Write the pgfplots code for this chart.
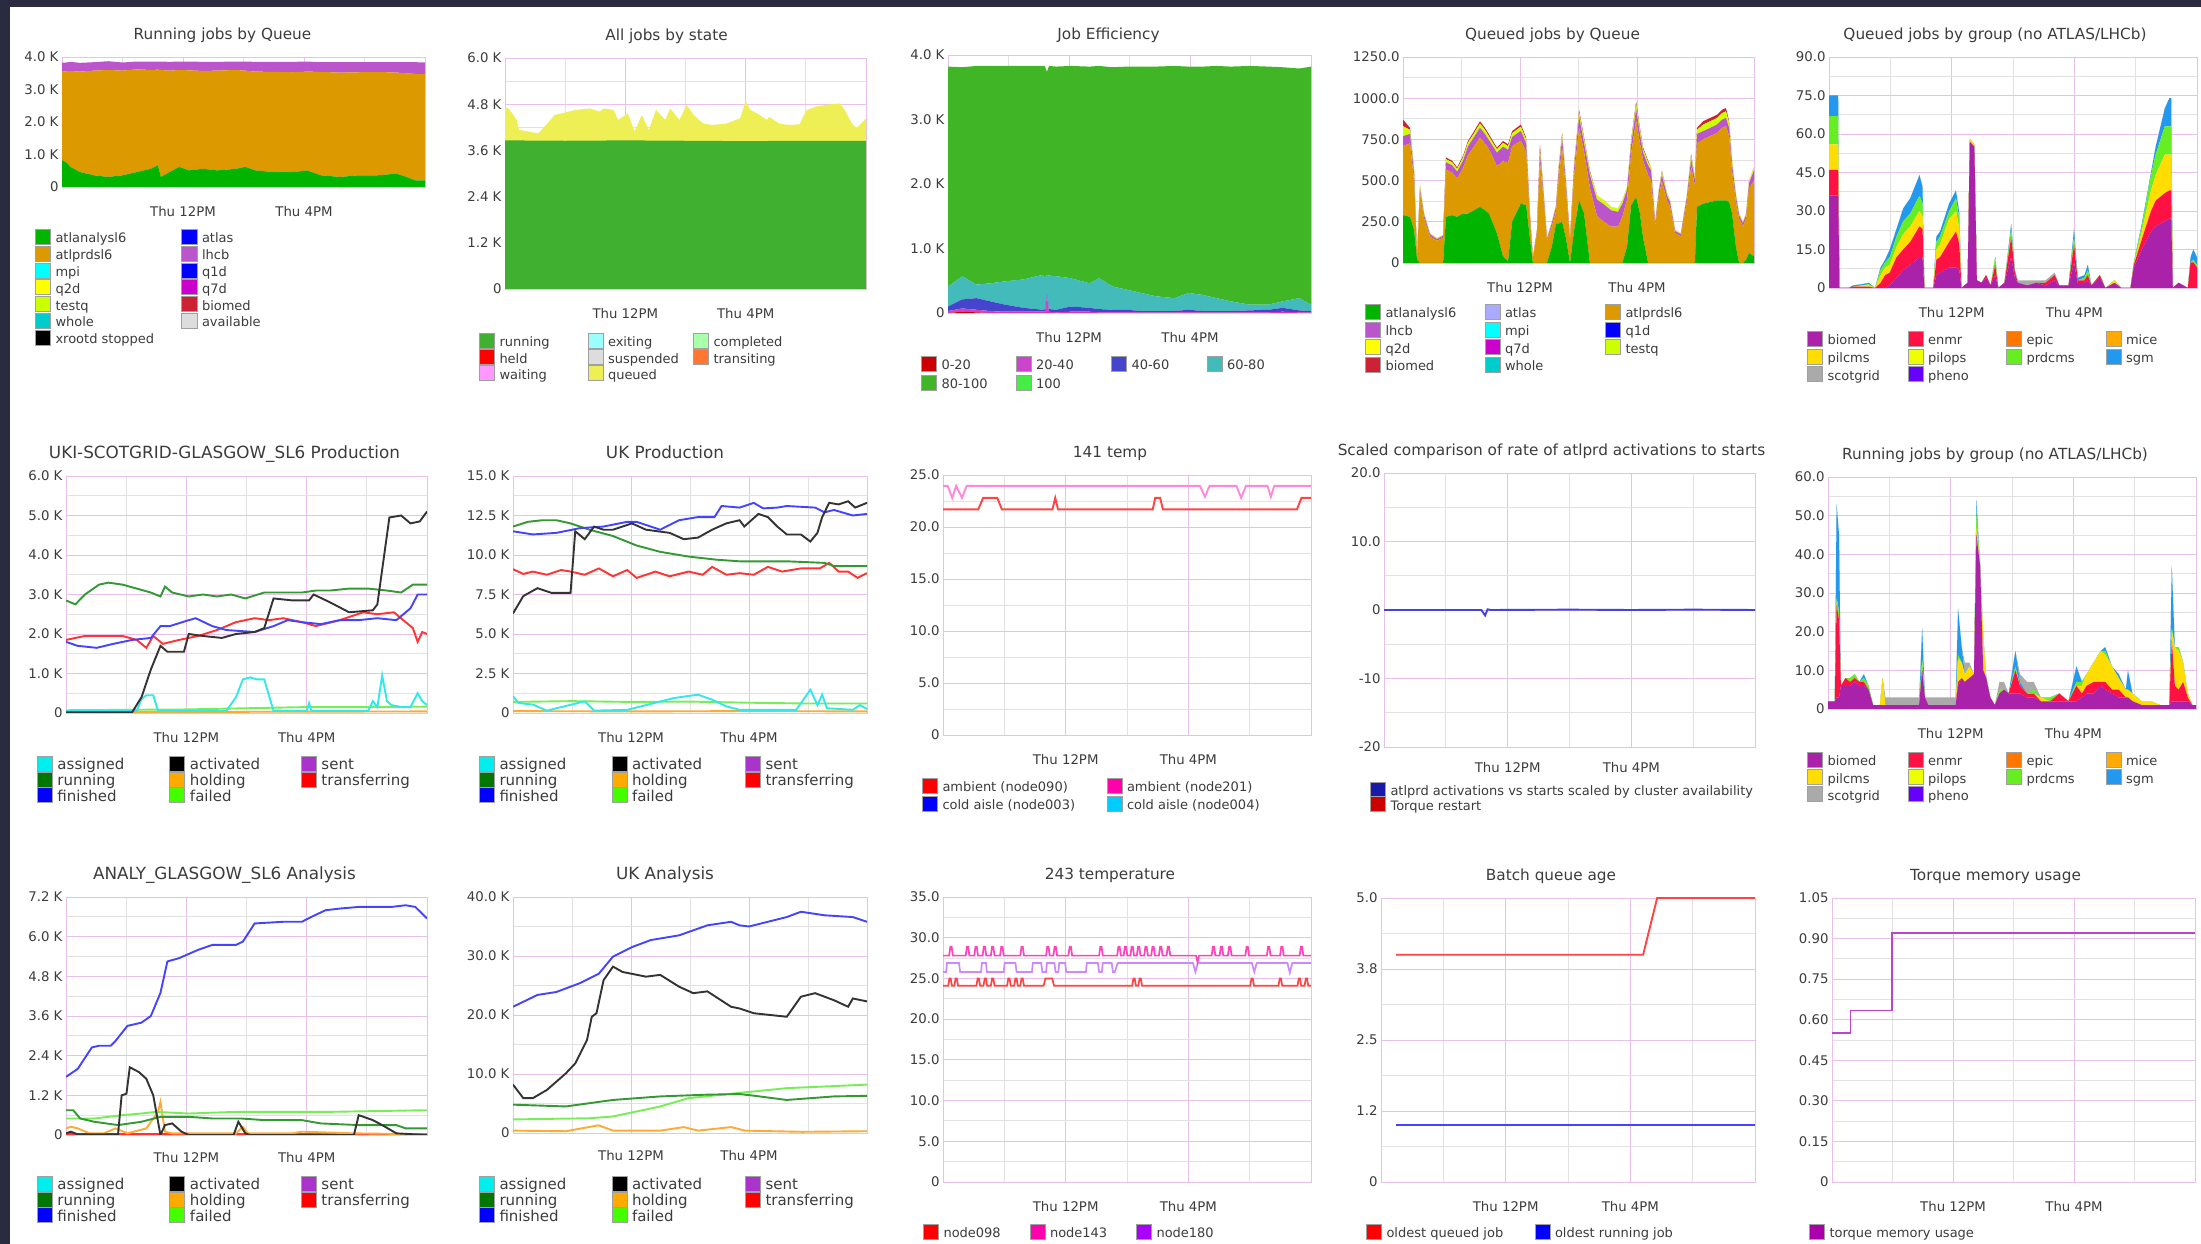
\documentclass[border=0pt]{standalone}
\usepackage{pgfplots}
\pgfplotsset{compat=1.18}
\usepackage{pgfplotstable}
\usepackage{fontspec}
\setmainfont{DejaVu Sans}
\definecolor{navy}{HTML}{2A2A40}
\definecolor{gmaj}{HTML}{E9C0E9}
\definecolor{gmin}{HTML}{E2E2E2}
\definecolor{swb}{HTML}{A0A0A0}
\definecolor{txt}{HTML}{3C3C3C}
% queues
\definecolor{cAtlAn}{HTML}{00B400}
\definecolor{cAtlPrd}{HTML}{DD9900}
\definecolor{cMpi}{HTML}{00FFFF}
\definecolor{cQtwo}{HTML}{FFFF00}
\definecolor{cTestq}{HTML}{CCFF00}
\definecolor{cWhole}{HTML}{00CCCC}
\definecolor{cXrd}{HTML}{000000}
\definecolor{cAtlas}{HTML}{0000FF}
\definecolor{cAtlasL}{HTML}{AAAAFF}
\definecolor{cLhcb}{HTML}{BB55CC}
\definecolor{cQone}{HTML}{0000FF}
\definecolor{cQseven}{HTML}{CC00CC}
\definecolor{cBiomed}{HTML}{CC2233}
\definecolor{cAvail}{HTML}{DDDDDD}
% states
\definecolor{sRun}{HTML}{40B030}
\definecolor{sHeld}{HTML}{FF0000}
\definecolor{sWait}{HTML}{FF99FF}
\definecolor{sExit}{HTML}{99FFFF}
\definecolor{sSusp}{HTML}{DDDDDD}
\definecolor{sQueued}{HTML}{EEEE55}
\definecolor{sCompl}{HTML}{AAFFAA}
\definecolor{sTrans}{HTML}{FF7733}
% efficiency
\definecolor{eA}{HTML}{CC0000}
\definecolor{eB}{HTML}{CC44CC}
\definecolor{eC}{HTML}{4444CC}
\definecolor{eD}{HTML}{44BBBB}
\definecolor{eE}{HTML}{40B525}
\definecolor{eF}{HTML}{44EE44}
% groups
\definecolor{gBio}{HTML}{AA22AA}
\definecolor{gEnmr}{HTML}{FF1144}
\definecolor{gEpic}{HTML}{FF7700}
\definecolor{gMice}{HTML}{FFAA00}
\definecolor{gPilcms}{HTML}{FFDD00}
\definecolor{gPilops}{HTML}{EEFF00}
\definecolor{gPrdcms}{HTML}{66EE22}
\definecolor{gSgm}{HTML}{2299EE}
\definecolor{gScot}{HTML}{AAAAAA}
\definecolor{gPheno}{HTML}{6600FF}
% panda
\definecolor{pAss}{HTML}{00EEEE}
\definecolor{pAct}{HTML}{000000}
\definecolor{pSent}{HTML}{AA33CC}
\definecolor{pRun}{HTML}{007700}
\definecolor{pHold}{HTML}{FFAA00}
\definecolor{pTrans}{HTML}{FF0000}
\definecolor{pFin}{HTML}{0000FF}
\definecolor{pFail}{HTML}{44FF00}
\definecolor{lRun}{HTML}{339933}
\definecolor{lFin}{HTML}{4444FF}
\definecolor{lTrans}{HTML}{FF3333}
\definecolor{lAct}{HTML}{333333}
\definecolor{lAss}{HTML}{33E8E8}
\definecolor{lFail}{HTML}{77EE55}
\definecolor{lHold}{HTML}{FFAA33}
% temps etc
\definecolor{tRed}{HTML}{FF0000}
\definecolor{tRedL}{HTML}{FF4444}
\definecolor{tPink}{HTML}{FF00AA}
\definecolor{tPinkL}{HTML}{FF88DD}
\definecolor{tMag}{HTML}{FF44BB}
\definecolor{tPur}{HTML}{AA00FF}
\definecolor{tPurL}{HTML}{CC88FF}
\definecolor{tBlue}{HTML}{0000FF}
\definecolor{tCyan}{HTML}{00CCFF}
\definecolor{sBlueD}{HTML}{1A1AAA}
\definecolor{sRedD}{HTML}{CC0000}
\definecolor{lBlueS}{HTML}{4444DD}
\definecolor{mPur}{HTML}{AA00AA}
\definecolor{mPurL}{HTML}{BB44CC}

\newcommand\ttl{\fontsize{15.3}{18}\selectfont}
\newcommand\ttlb{\fontsize{16.8}{20}\selectfont}
\newcommand\tck{\fontsize{13.3}{16}\selectfont}
\newcommand\lgf{\fontsize{13}{16}\selectfont}
\newcommand\lgfb{\fontsize{15}{18}\selectfont}
\newcommand\LE[1]{\addlegendentry{\rule[-4.25pt]{0pt}{18pt}#1}}
\newcommand\LW[2]{\addlegendentry{\rule[-4.25pt]{0pt}{18pt}\makebox[#1][l]{#2}}}
\newcommand\LI[1]{\addlegendimage{fill=#1}}

\pgfplotsset{
 rrd/.style={
  scale only axis, anchor=south west,
  xmin=8, xmax=20, ymin=0,
  xtick={12,16}, xticklabels={Thu 12PM,Thu 4PM},
  minor xtick={10,14,18},
  minor y tick num=1,
  xmajorgrids, xminorgrids, ymajorgrids, yminorgrids,
  major grid style={draw=gmaj, line width=0.9pt},
  minor grid style={draw=gmin, line width=0.9pt},
  axis line style={draw=gmaj, line width=0.9pt},
  major tick length=0pt, minor tick length=0pt,
  tick label style={font=\tck, text=txt},
  xticklabel style={anchor=base, yshift=-30pt},
  title style={font=\ttl, text=txt, at={(0.5,1)}, anchor=base, yshift=11pt},
  legend style={draw=none, fill=none, at={(0,0)}, anchor=north west, font=\lgf, text=txt,
     row sep=0pt, column sep=0pt, inner sep=0pt, outer sep=0pt,
     cells={anchor=west}, nodes={inner sep=0pt}},
  legend image code/.code={\filldraw[##1, draw=swb, line width=0.6pt] (0pt,-7.5pt) rectangle (15pt,7.5pt); \path (20pt,0pt);},
 },
 ln/.style={line width=1.9pt, forget plot},
 ar/.style={fill=#1, draw=none, forget plot},
}

% ---------------- data tables ----------------
\pgfplotstableread{
h g o l
8.00 0.82 2.73 0.28
8.13 0.77 2.79 0.27
8.28 0.62 2.95 0.28
8.59 0.46 3.09 0.27
9.06 0.36 3.22 0.26
9.53 0.31 3.29 0.27
10.00 0.36 3.22 0.25
10.47 0.46 3.16 0.24
10.94 0.56 3.04 0.26
11.17 0.67 2.94 0.25
11.27 0.31 3.29 0.26
11.56 0.46 3.12 0.27
11.88 0.62 2.98 0.26
12.19 0.51 3.08 0.27
12.66 0.56 3.01 0.28
13.13 0.51 3.07 0.27
13.75 0.56 3.04 0.26
14.06 0.62 2.96 0.28
14.38 0.51 3.04 0.30
15.00 0.46 3.08 0.31
15.63 0.46 3.07 0.32
16.09 0.51 3.04 0.31
16.56 0.36 3.18 0.30
17.19 0.31 3.21 0.32
17.81 0.36 3.17 0.31
18.44 0.36 3.18 0.30
19.06 0.41 3.11 0.32
19.38 0.31 3.19 0.34
19.69 0.20 3.28 0.36
20.00 0.20 3.27 0.36
}\tPa

\pgfplotstableread{
h r m b t g
8.00 0.00 0.03 0.07 0.31 3.41
8.47 0.02 0.05 0.14 0.36 3.24
8.94 0.01 0.04 0.18 0.21 3.39
9.40 0.00 0.03 0.15 0.28 3.37
9.87 0.00 0.02 0.11 0.36 3.34
10.49 0.00 0.02 0.06 0.44 3.31
11.12 0.00 0.02 0.03 0.54 3.24
11.20 0.00 0.02 0.03 0.50 3.28
11.27 0.00 0.26 0.03 0.30 3.15
11.34 0.00 0.02 0.04 0.52 3.25
11.58 0.00 0.01 0.04 0.52 3.25
12.05 0.00 0.02 0.08 0.44 3.29
12.68 0.00 0.02 0.06 0.38 3.36
12.99 0.00 0.01 0.05 0.48 3.29
13.45 0.00 0.01 0.04 0.36 3.40
13.92 0.00 0.01 0.04 0.31 3.46
14.39 0.00 0.01 0.02 0.28 3.51
14.86 0.00 0.01 0.02 0.23 3.56
15.48 0.00 0.01 0.02 0.20 3.60
15.95 0.00 0.01 0.04 0.26 3.51
16.42 0.00 0.01 0.02 0.25 3.54
16.88 0.00 0.01 0.02 0.20 3.60
17.35 0.00 0.01 0.02 0.15 3.64
17.97 0.00 0.01 0.03 0.09 3.70
18.60 0.00 0.01 0.04 0.08 3.69
19.06 0.00 0.02 0.06 0.10 3.63
19.61 0.00 0.01 0.03 0.19 3.56
20.00 0.00 0.01 0.02 0.10 3.69
}\tPc

\pgfplotstableread{
h g o p t r
8.00 290 420 60 60 40
8.24 280 446 57 25 12
8.38 200 296 39 17 8
8.48 20 16 3 1 0
8.58 0 430 20 20 0
8.72 0 270 21 9 0
8.92 0 162 13 5 0
9.16 0 135 10 5 0
9.37 0 153 12 5 0
9.47 280 286 45 19 10
9.68 290 259 43 19 9
9.85 280 233 41 17 9
10.05 300 275 45 20 10
10.22 300 355 52 22 11
10.43 320 388 56 24 12
10.63 340 421 60 26 13
10.80 320 406 57 25 12
10.94 300 390 55 23 12
11.21 180 409 80 21 10
11.42 40 577 90 22 11
11.59 10 597 80 22 11
11.73 250 458 56 24 12
12.03 360 383 59 25 13
12.21 350 323 53 23 11
12.34 150 120 21 9 0
12.44 0 27 2 1 0
12.58 0 180 14 6 0
12.68 0 618 50 22 30
12.82 0 360 28 12 0
12.92 0 135 10 5 0
13.09 100 124 18 8 0
13.23 240 75 25 10 0
13.33 240 291 42 18 9
13.44 250 449 55 24 12
13.57 150 300 35 15 0
13.71 0 135 10 5 0
13.85 200 331 42 18 9
14.02 380 443 65 28 14
14.19 300 373 53 23 11
14.39 0 455 80 17 8
14.63 0 285 100 25 0
14.87 0 250 105 25 0
15.11 0 220 100 20 0
15.35 0 220 90 20 0
15.50 0 280 80 20 0
15.66 100 285 60 15 0
15.80 350 315 52 22 11
15.97 400 467 69 29 15
16.10 300 426 57 25 12
16.21 150 470 49 21 10
16.38 0 532 60 19 9
16.48 0 503 60 17 0
16.62 0 224 18 8 0
16.75 0 404 32 14 0
16.85 0 496 39 17 8
17.03 0 378 29 13 0
17.13 0 342 27 11 0
17.30 0 180 14 6 0
17.50 0 162 13 5 0
17.71 0 378 29 13 0
17.85 0 584 46 20 10
17.98 0 468 36 16 0
18.05 340 386 57 25 12
18.26 360 390 50 40 20
18.50 370 400 50 40 20
18.74 380 410 50 40 20
18.91 380 440 50 40 20
19.04 380 450 50 40 20
19.15 370 400 50 30 10
19.25 300 258 43 19 0
19.38 100 278 29 13 0
19.49 0 270 21 9 0
19.62 0 224 18 8 0
19.73 20 250 21 9 0
19.83 60 390 35 15 0
20.00 40 463 60 17 0
}\tPd

\pgfplotstableread{
h bm en pc pd sg sc
8.00 36 10 10 11 8 0
8.30 36 10 10 11 8 0
8.34 0 0 0 0 0 0
8.63 0 0 0 0 0 0
8.78 0 0.5 0 0 0.5 0
9.08 0 0.5 0.5 0 0.5 0
9.30 0 0.5 0.5 0.5 0.5 0
9.50 0 0 0 0 0 0
9.68 0 2 3 2 1 0
9.83 0 5 3 2 1 0
9.98 1 5 3 3 3 0
10.20 4 8 4 4 3 0
10.42 7 8 6 5 5 0
10.65 9 9 6 5 6 0
10.95 12 12 6 6 8 0
11.05 12 11 5 5 6 1
11.11 0 0 0 0 0 0
11.40 0 0 0 0 0 0
11.50 5 6 4 3 2 0
11.62 6 6 5 3 2 0
11.92 8 10 9 3 3 0
12.14 8 14 8 5 3 0
12.25 7 10 6 4 2 0
12.32 0 0 0 0 0 0
12.52 2 0 0 0 0 0
12.59 57 0 1 0 0 0
12.74 55 0 1 0 0 0
12.82 3 0 0 0 0 0
12.97 2 0 0 0 0 0
13.12 4 1 0 0 0 0
13.27 1 0 0 0 0 0
13.42 5 4 0 3 0 0
13.52 0 0 0 0 0 0
13.72 2 0 0 0 0 0
13.94 12 8 0 3 2 0
14.06 4 2 0 0 1 0
14.16 2 0 0 0 0 1
14.46 1 0 0 0 0 2
14.76 2 0 0 0 0 1
15.06 1 1 0 0 0 1
15.36 3 2 0 0 0 1
15.51 1 0 0 0 0 0
15.81 1 0 0 0 0 0
15.99 10 7 0 3 3 0
16.11 2 1 0 0 1 0
16.33 2 1 0 1 1 0
16.44 3 2 0 2 2 0
16.56 1 0 0 0 0 0
16.83 4 1 0 0 0 0
17.01 0 0 0 0 0 0
17.31 2 0 1 0 0 0
17.53 0 0 0 0 0 0
17.83 0 0 0 0 0 0
17.94 8 1 0 1 0 0
18.20 15 4 3 2 1 0
18.50 22 8 8 6 1 0
18.65 24 10 10 8 3 0
18.95 26 11 15 11 7 0
19.10 27 11 14 11 11 0
19.16 27 11 14 11 11 0
19.21 0 0 0 0 0 0
19.40 2 0 0 0 0 0
19.55 1 0 0 0 0 0
19.70 0 0 0 0 0 0
19.79 0 10 0 0 2 0
19.88 0 10 0 1 4 0
20.00 0 8 0 1 3 0
}\tPe

\pgfplotstableread{
h bm en pc pd sg sc
8.00 2 0 0 0 0 0
8.22 2 0 0 0 0 0
8.28 3 24 0 2 24 0
8.36 3 20 0 2 20 0
8.42 6 0 0 0 0 0
8.57 6 2 0 0 0 0
8.72 6 1 0 1 0 0
8.87 7 1 0 1 0 0
9.02 6 1 0 0 0 0
9.17 6 1 0 1 1 0
9.32 5 0 0 1 0 0
9.47 1 0 0 0 0 0
9.69 1 0 0 0 0 0
9.78 1 0 7 0 0 0
9.87 1 0 0 0 0 2
10.14 1 0 0 0 0 2
10.59 1 0 0 0 0 2
10.97 1 0 0 0 0 2
11.07 10 0 0 3 8 0
11.16 3 0 0 0 0 0
11.27 1 0 0 0 0 2
11.64 1 0 0 0 0 2
12.16 1 0 0 0 0 2
12.24 6 1 6 1 12 0
12.36 8 0 4 0 4 0
12.46 7 0 2 0 0 3
12.61 8 0 3 0 0 1
12.76 9 0 0 0 0 0
12.84 45 0 2 4 3 0
12.96 37 0 0 0 0 0
13.06 10 0 9 0 0 0
13.16 8 0 0 0 0 0
13.29 3 0 0 0 0 0
13.44 1 0 0 0 0 0
13.59 4 0 0 1 0 2
13.74 5 0 0 0 0 2
13.89 4 0 0 0 0 0
14.11 4 6 0 1 4 0
14.26 4 2 0 0 1 2
14.49 3 1 0 0 0 3
14.71 3 1 0 1 0 2
14.94 2 0 1 0 0 0
15.24 2 0 0 1 0 0
15.54 2 2 0 0 0 0
15.84 2 0 0 0 0 0
16.10 2 4 0 1 4 0
16.28 3 1 2 1 0 0
16.43 4 2 3 0 0 0
16.66 4 3 5 0 0 0
16.89 6 1 8 0 0 0
17.04 5 2 7 1 1 0
17.26 4 1 6 0 0 0
17.48 3 2 3 0 1 0
17.71 3 0 2 0 0 0
17.78 3 0 2 0 5 0
17.93 2 0 2 0 0 0
18.23 1 0 1 0 0 0
18.53 1 0 1 0 0 0
18.83 1 0 0 0 0 0
19.13 1 0 0 0 0 0
19.21 2 16 2 1 16 0
19.31 2 4 10 0 0 0
19.43 2 3 10 1 0 0
19.58 2 5 5 0 0 0
19.73 2 1 1 0 0 0
19.88 1 0 0 0 0 0
20.00 1 0 0 0 0 0
}\tPj

\begin{document}
\begin{tikzpicture}
\useasboundingbox (0,0) rectangle (2201pt,1244pt);
\fill[white] (0,0) rectangle (2201pt,1244pt);
\fill[navy] (0,1237pt) rectangle (2201pt,1244pt);
\fill[navy] (0,0) rectangle (10pt,1244pt);

%================ P1 Running jobs by Queue
\begin{axis}[rrd, at={(62pt,1057pt)}, width=363pt, height=130pt,
  ymax=4, ytick={0,1,2,3,4}, yticklabels={0,1.0 K,2.0 K,3.0 K,4.0 K},
  title={Running jobs by Queue}, title style={xshift=-21pt},
  stack plots=y, legend columns=2,
  legend style={xshift=-27pt, yshift=-42pt, row sep=1.2pt}]
\addplot[ar=cAtlAn] table[x=h,y=g]{\tPa} \closedcycle;
\addplot[ar=cAtlPrd] table[x=h,y=o]{\tPa} \closedcycle;
\addplot[ar=cLhcb] table[x=h,y=l]{\tPa} \closedcycle;
\LI{cAtlAn}\LW{126pt}{atlanalysl6}
\LI{cAtlas}\LE{atlas}
\LI{cAtlPrd}\LW{126pt}{atlprdsl6}
\LI{cLhcb}\LE{lhcb}
\LI{cMpi}\LW{126pt}{mpi}
\LI{cQone}\LE{q1d}
\LI{cQtwo}\LW{126pt}{q2d}
\LI{cQseven}\LE{q7d}
\LI{cTestq}\LW{126pt}{testq}
\LI{cBiomed}\LE{biomed}
\LI{cWhole}\LW{126pt}{whole}
\LI{cAvail}\LE{available}
\LI{cXrd}\LW{126pt}{xrootd stopped}
\end{axis}

%================ P2 All jobs by state
\begin{axis}[rrd, at={(505pt,955pt)}, width=361pt, height=231pt,
  ymax=6, ytick={0,1.2,2.4,3.6,4.8,6}, yticklabels={0,1.2 K,2.4 K,3.6 K,4.8 K,6.0 K},
  title={All jobs by state}, title style={xshift=-19pt},
  legend columns=3,
  legend style={xshift=-26pt, yshift=-44pt, row sep=0.5pt}]
\addplot[ar=sQueued] coordinates {(8.00,4.74)(8.16,4.65)(8.39,4.39)(8.47,4.13)(8.78,4.09)(9.10,4.04)(9.41,4.30)(9.65,4.52)(9.88,4.56)(10.35,4.65)(10.82,4.69)(11.14,4.61)(11.29,4.69)(11.61,4.65)(11.76,4.39)(12.08,4.56)(12.31,4.09)(12.55,4.52)(12.78,4.13)(13.02,4.65)(13.33,4.39)(13.49,4.69)(13.80,4.39)(14.04,4.78)(14.27,4.52)(14.59,4.30)(14.90,4.26)(15.37,4.30)(15.81,4.43)(16.00,4.87)(16.16,4.65)(16.47,4.52)(16.71,4.39)(16.78,4.47)(17.10,4.30)(17.41,4.26)(17.80,4.28)(17.88,4.43)(18.04,4.65)(18.35,4.74)(18.67,4.78)(19.14,4.82)(19.29,4.65)(19.53,4.30)(19.69,4.17)(19.84,4.30)(20.00,4.43)} \closedcycle;
\addplot[ar=sRun] coordinates {(8,3.86)(10,3.85)(12,3.86)(14,3.85)(16,3.84)(18,3.85)(20,3.85)} \closedcycle;
\LI{sRun}\LW{88pt}{running}
\LI{sExit}\LW{85pt}{exiting}
\LI{sCompl}\LE{completed}
\LI{sHeld}\LW{88pt}{held}
\LI{sSusp}\LW{85pt}{suspended}
\LI{sTrans}\LE{transiting}
\LI{sWait}\LW{88pt}{waiting}
\LI{sQueued}\LW{85pt}{queued}
\end{axis}

%================ P3 Job Efficiency
\begin{axis}[rrd, at={(948pt,931pt)}, width=363pt, height=258pt,
  ymax=4, ytick={0,1,2,3,4}, yticklabels={0,1.0 K,2.0 K,3.0 K,4.0 K},
  title={Job Efficiency}, title style={xshift=-21pt, yshift=-2pt},
  stack plots=y, legend columns=4,
  legend style={xshift=-27pt, yshift=-43pt, row sep=3pt}]
\addplot[ar=eA] table[x=h,y=r]{\tPc} \closedcycle;
\addplot[ar=eB] table[x=h,y=m]{\tPc} \closedcycle;
\addplot[ar=eC] table[x=h,y=b]{\tPc} \closedcycle;
\addplot[ar=eD] table[x=h,y=t]{\tPc} \closedcycle;
\addplot[ar=eE] table[x=h,y=g]{\tPc} \closedcycle;
\LI{eA}\LW{74pt}{0-20}
\LI{eB}\LW{75pt}{20-40}
\LI{eC}\LW{75pt}{40-60}
\LI{eD}\LE{60-80}
\LI{eE}\LW{74pt}{80-100}
\LI{eF}\LW{75pt}{100}
\end{axis}

%================ P4 Queued jobs by Queue
\begin{axis}[rrd, at={(1403pt,981pt)}, width=351pt, height=206pt,
  ymax=1250, ytick={0,250,500,750,1000,1250}, yticklabels={0,250.0,500.0,750.0,1000.0,1250.0},
  title={Queued jobs by Queue}, title style={xshift=-26pt},
  stack plots=y, legend columns=3,
  legend style={xshift=-38pt, yshift=-41pt, row sep=2pt}]
\addplot[ar=cAtlAn] table[x=h,y=g]{\tPd} \closedcycle;
\addplot[ar=cAtlPrd] table[x=h,y=o]{\tPd} \closedcycle;
\addplot[ar=cLhcb] table[x=h,y=p]{\tPd} \closedcycle;
\addplot[ar=cTestq] table[x=h,y=t]{\tPd} \closedcycle;
\addplot[ar=cBiomed] table[x=h,y=r]{\tPd} \closedcycle;
\LI{cAtlAn}\LW{99pt}{atlanalysl6}
\LI{cAtlasL}\LW{100pt}{atlas}
\LI{cAtlPrd}\LE{atlprdsl6}
\LI{cLhcb}\LW{99pt}{lhcb}
\LI{cMpi}\LW{100pt}{mpi}
\LI{cQone}\LE{q1d}
\LI{cQtwo}\LW{99pt}{q2d}
\LI{cQseven}\LW{100pt}{q7d}
\LI{cTestq}\LE{testq}
\LI{cBiomed}\LW{99pt}{biomed}
\LI{cWhole}\LW{100pt}{whole}
\end{axis}

%================ P5 Queued jobs by group
\begin{axis}[rrd, at={(1829pt,956pt)}, width=368pt, height=231pt,
  ymax=90, ytick={0,15,30,45,60,75,90}, yticklabels={0,15.0,30.0,45.0,60.0,75.0,90.0},
  title={Queued jobs by group (no ATLAS/LHCb)}, title style={xshift=-18pt},
  stack plots=y, legend columns=4,
  legend style={xshift=-22pt, yshift=-43pt, row sep=2pt}]
\addplot[ar=gBio] table[x=h,y=bm]{\tPe} \closedcycle;
\addplot[ar=gEnmr] table[x=h,y=en]{\tPe} \closedcycle;
\addplot[ar=gPilcms] table[x=h,y=pc]{\tPe} \closedcycle;
\addplot[ar=gPrdcms] table[x=h,y=pd]{\tPe} \closedcycle;
\addplot[ar=gSgm] table[x=h,y=sg]{\tPe} \closedcycle;
\addplot[ar=gScot] table[x=h,y=sc]{\tPe} \closedcycle;
\LI{gBio}\LW{80pt}{biomed}
\LI{gEnmr}\LW{78pt}{enmr}
\LI{gEpic}\LW{79pt}{epic}
\LI{gMice}\LE{mice}
\LI{gPilcms}\LW{80pt}{pilcms}
\LI{gPilops}\LW{78pt}{pilops}
\LI{gPrdcms}\LW{79pt}{prdcms}
\LI{gSgm}\LE{sgm}
\LI{gScot}\LW{80pt}{scotgrid}
\LI{gPheno}\LW{78pt}{pheno}
\end{axis}

%================ P6 UKI-SCOTGRID-GLASGOW_SL6 Production
\begin{axis}[rrd, at={(66pt,531pt)}, width=361pt, height=237pt,
  ymax=6, ytick={0,1,2,3,4,5,6}, yticklabels={0,1.0 K,2.0 K,3.0 K,4.0 K,5.0 K,6.0 K},
  title={UKI-SCOTGRID-GLASGOW\_SL6 Production}, title style={font=\ttlb, xshift=-22pt},
  legend columns=3,
  legend style={font=\lgfb, xshift=-29pt, yshift=-43pt, row sep=0pt}]
\addplot[ln, lHold] coordinates {(8,0.02)(14,0.03)(20,0.04)};
\addplot[ln, lFail] coordinates {(8,0.07)(12,0.09)(14,0.12)(16,0.15)(18,0.15)(20,0.16)};
\addplot[ln, lAss] coordinates {(8.00,0.05)(10.35,0.05)(10.51,0.35)(10.67,0.45)(10.90,0.45)(11.06,0.05)(13.33,0.05)(13.65,0.4)(13.88,0.85)(14.12,0.9)(14.35,0.85)(14.59,0.85)(14.90,0.05)(16.00,0.05)(16.08,0.25)(16.16,0.05)(18.04,0.05)(18.20,0.3)(18.35,0.15)(18.51,0.95)(18.67,0.3)(18.82,0.2)(19.14,0.15)(19.45,0.15)(19.69,0.5)(19.84,0.3)(20.00,0.2)};
\addplot[ln, lRun] coordinates {(8.00,2.85)(8.31,2.75)(8.63,3.0)(9.10,3.25)(9.41,3.3)(9.88,3.25)(10.35,3.15)(10.82,3.05)(11.14,2.95)(11.29,3.2)(11.53,3.05)(12.08,2.95)(12.55,3.0)(13.02,2.95)(13.49,3.0)(13.96,2.9)(14.59,3.05)(15.22,3.05)(15.84,3.05)(16.31,3.1)(16.78,3.1)(17.41,3.15)(18.04,3.15)(18.67,3.1)(19.14,3.05)(19.53,3.25)(20.00,3.25)};
\addplot[ln, lTrans] coordinates {(8.00,1.85)(8.63,1.95)(9.25,1.95)(9.88,1.95)(10.35,1.85)(10.67,1.65)(10.90,1.95)(11.22,1.75)(11.76,1.85)(12.39,1.95)(13.02,2.1)(13.65,2.3)(14.27,2.4)(14.75,2.35)(15.22,2.4)(15.84,2.3)(16.31,2.2)(17.10,2.35)(17.88,2.55)(18.35,2.5)(18.90,2.55)(19.29,2.3)(19.53,2.15)(19.69,1.8)(19.84,2.05)(20.00,2.0)};
\addplot[ln, lFin] coordinates {(8.00,1.8)(8.39,1.7)(9.02,1.65)(9.57,1.75)(10.20,1.85)(10.82,1.9)(11.14,2.2)(11.45,2.2)(12.08,2.35)(12.31,2.4)(12.86,2.2)(13.33,2.1)(14.27,2.05)(14.90,2.2)(15.37,2.35)(15.84,2.3)(16.47,2.25)(17.10,2.35)(17.72,2.35)(18.35,2.4)(18.98,2.35)(19.45,2.65)(19.69,3.0)(20.00,3.0)};
\addplot[ln, lAct] coordinates {(8.00,0.02)(10.20,0.02)(10.51,0.4)(10.82,1.1)(11.14,1.7)(11.37,1.55)(11.92,1.55)(12.08,2.0)(12.55,1.95)(13.18,1.9)(13.65,2.0)(14.27,2.05)(14.59,2.15)(14.90,2.9)(15.53,2.85)(16.08,2.85)(16.23,3.0)(16.78,2.8)(17.41,2.55)(18.20,2.6)(18.35,2.75)(18.75,4.95)(19.14,5.0)(19.45,4.8)(19.76,4.85)(20.00,5.1)};
\LI{pAss}\LW{112pt}{assigned}
\LI{pAct}\LW{111pt}{activated}
\LI{pSent}\LE{sent}
\LI{pRun}\LW{112pt}{running}
\LI{pHold}\LW{111pt}{holding}
\LI{pTrans}\LE{transferring}
\LI{pFin}\LW{112pt}{finished}
\LI{pFail}\LW{111pt}{failed}
\end{axis}

%================ P7 UK Production
\begin{axis}[rrd, at={(513pt,531pt)}, width=354pt, height=237pt,
  ymax=15, ytick={0,2.5,5,7.5,10,12.5,15}, yticklabels={0,2.5 K,5.0 K,7.5 K,10.0 K,12.5 K,15.0 K},
  title={UK Production}, title style={font=\ttlb, xshift=-25pt},
  legend columns=3,
  legend style={font=\lgfb, xshift=-34pt, yshift=-43pt, row sep=0pt}]
\addplot[ln, lHold] coordinates {(8,0.12)(12,0.1)(16,0.12)(20,0.1)};
\addplot[ln, lFail] coordinates {(8,0.7)(10,0.75)(12,0.7)(14,0.72)(16,0.65)(18,0.6)(20,0.6)};
\addplot[ln, lAss] coordinates {(8.00,1.05)(8.19,0.63)(8.67,0.53)(9.15,0.15)(10.43,0.74)(10.75,0.15)(11.87,0.2)(13.47,0.95)(14.27,1.16)(14.75,0.84)(15.23,0.42)(15.68,0.2)(17.60,0.2)(18.08,1.47)(18.32,0.5)(18.48,1.16)(18.64,0.3)(19.52,0.2)(19.76,0.5)(20.0,0.25)};
\addplot[ln, lTrans] coordinates {(8.00,9.1)(8.35,8.8)(8.67,8.95)(9.15,8.75)(9.63,9.05)(9.95,8.95)(10.43,8.75)(10.91,9.15)(11.39,8.65)(11.87,9.05)(12.19,8.55)(12.83,8.95)(13.31,8.65)(13.95,8.95)(14.43,8.75)(14.75,9.25)(15.23,8.75)(15.68,8.85)(16.16,8.75)(16.64,9.25)(17.12,8.95)(17.76,9.15)(18.40,9.15)(18.72,9.5)(19.04,8.95)(19.36,8.95)(19.68,8.55)(20.0,8.85)};
\addplot[ln, lRun] coordinates {(8.00,11.8)(8.51,12.1)(8.99,12.2)(9.47,12.2)(9.95,12.0)(10.59,11.6)(11.39,11.2)(12.19,10.6)(12.99,10.2)(13.95,9.9)(14.91,9.7)(15.68,9.6)(17.28,9.6)(18.56,9.5)(18.88,9.3)(20,9.3)};
\addplot[ln, lFin] coordinates {(8.00,11.5)(8.67,11.3)(9.47,11.4)(10.27,11.7)(11.07,11.8)(11.87,12.1)(12.19,12.1)(12.99,11.6)(13.63,12.2)(14.27,12.4)(14.83,12.4)(15.07,13.1)(15.68,13.0)(16.16,13.3)(16.48,12.95)(16.96,13.0)(17.28,13.1)(18.24,13.0)(18.56,12.7)(18.88,12.85)(19.52,12.5)(20.0,12.6)};
\addplot[ln, lAct] coordinates {(8.00,6.3)(8.35,7.4)(8.83,7.9)(9.31,7.6)(9.95,7.6)(10.11,11.5)(10.43,11.0)(10.75,11.8)(11.07,11.6)(11.39,11.6)(12.03,12.0)(12.51,11.6)(13.31,11.4)(13.79,11.0)(14.27,11.1)(14.75,11.6)(15.23,12.0)(15.68,12.2)(15.84,11.8)(16.32,12.6)(16.64,12.4)(16.96,11.8)(17.28,11.3)(17.76,11.3)(18.08,10.85)(18.32,11.4)(18.48,12.4)(18.72,13.3)(19.04,13.2)(19.36,13.4)(19.60,13.0)(20.0,13.3)};
\LI{pAss}\LW{112pt}{assigned}
\LI{pAct}\LW{113pt}{activated}
\LI{pSent}\LE{sent}
\LI{pRun}\LW{112pt}{running}
\LI{pHold}\LW{113pt}{holding}
\LI{pTrans}\LE{transferring}
\LI{pFin}\LW{112pt}{finished}
\LI{pFail}\LW{113pt}{failed}
\end{axis}

%================ P8 141 temp
\begin{axis}[rrd, at={(943pt,509pt)}, width=368pt, height=260pt,
  ymax=25, ytick={0,5,10,15,20,25}, yticklabels={0,5.0,10.0,15.0,20.0,25.0},
  title={141 temp}, title style={xshift=-17pt},
  legend columns=2,
  legend style={xshift=-21pt, yshift=-43pt, row sep=2pt}]
\addplot[ln, tPinkL] coordinates {(8,23.95)(8.15,23.95)(8.30,22.8)(8.43,23.95)(8.62,22.8)(8.77,23.95)(16.38,23.95)(16.54,22.9)(16.69,23.95)(17.57,23.95)(17.72,22.8)(17.88,23.95)(18.58,23.95)(18.69,22.9)(18.80,23.95)(20,23.95)};
\addplot[ln, tRedL] coordinates {(8,21.7)(9.15,21.7)(9.31,22.8)(9.77,22.8)(9.92,21.7)(11.57,21.7)(11.66,22.8)(11.75,21.7)(14.84,21.7)(14.92,22.8)(15.08,22.8)(15.17,21.7)(19.54,21.7)(19.69,22.8)(20,22.8)};
\LI{tRed}\LW{164pt}{ambient (node090)}
\LI{tPink}\LE{ambient (node201)}
\LI{tBlue}\LW{164pt}{cold aisle (node003)}
\LI{tCyan}\LE{cold aisle (node004)}
\end{axis}

%================ P9 Scaled comparison
\begin{axis}[rrd, at={(1384pt,497pt)}, width=371pt, height=274pt,
  ymin=-20, ymax=20, ytick={-20,-10,0,10,20}, yticklabels={-20,-10,0,10.0,20.0},
  xticklabel style={yshift=4pt},
  title={Scaled comparison of rate of atlprd activations to starts}, title style={xshift=-18pt},
  legend columns=1,
  legend style={xshift=-14pt, yshift=-35pt, row sep=-1.5pt}]
\addplot[ln, lBlueS] coordinates {(8,0)(11.15,0)(11.27,-0.8)(11.35,0.1)(11.45,0)(14,0.05)(16,0)(18,0.05)(20,0)};
\LI{sBlueD}\LE{atlprd activations vs starts scaled by cluster availability}
\LI{sRedD}\LE{Torque restart}
\end{axis}

%================ P10 Running jobs by group
\begin{axis}[rrd, at={(1828pt,535pt)}, width=368pt, height=232pt,
  ymax=60, ytick={0,10,20,30,40,50,60}, yticklabels={0,10.0,20.0,30.0,40.0,50.0,60.0},
  title={Running jobs by group (no ATLAS/LHCb)}, title style={xshift=-17pt},
  stack plots=y, legend columns=4,
  legend style={xshift=-21pt, yshift=-43pt, row sep=1.5pt}]
\addplot[ar=gBio] table[x=h,y=bm]{\tPj} \closedcycle;
\addplot[ar=gEnmr] table[x=h,y=en]{\tPj} \closedcycle;
\addplot[ar=gPilcms] table[x=h,y=pc]{\tPj} \closedcycle;
\addplot[ar=gPrdcms] table[x=h,y=pd]{\tPj} \closedcycle;
\addplot[ar=gSgm] table[x=h,y=sg]{\tPj} \closedcycle;
\addplot[ar=gScot] table[x=h,y=sc]{\tPj} \closedcycle;
\LI{gBio}\LW{80pt}{biomed}
\LI{gEnmr}\LW{78pt}{enmr}
\LI{gEpic}\LW{79pt}{epic}
\LI{gMice}\LE{mice}
\LI{gPilcms}\LW{80pt}{pilcms}
\LI{gPilops}\LW{78pt}{pilops}
\LI{gPrdcms}\LW{79pt}{prdcms}
\LI{gSgm}\LE{sgm}
\LI{gScot}\LW{80pt}{scotgrid}
\LI{gPheno}\LW{78pt}{pheno}
\end{axis}

%================ P11 ANALY_GLASGOW_SL6 Analysis
\begin{axis}[rrd, at={(66pt,109pt)}, width=361pt, height=238pt,
  ymax=7.2, ytick={0,1.2,2.4,3.6,4.8,6,7.2}, yticklabels={0,1.2 K,2.4 K,3.6 K,4.8 K,6.0 K,7.2 K},
  xticklabel style={yshift=2pt},
  title={ANALY\_GLASGOW\_SL6 Analysis}, title style={font=\ttlb, xshift=-22pt},
  legend columns=3,
  legend style={font=\lgfb, xshift=-29pt, yshift=-41pt, row sep=0pt}]
\addplot[ln, lTrans] coordinates {(8,0.02)(20,0.02)};
\addplot[ln, lHold] coordinates {(8.00,0.2)(8.16,0.25)(8.39,0.2)(8.78,0.05)(9.25,0.05)(9.65,0.2)(10.04,0.05)(10.67,0.2)(11.06,0.7)(11.14,1.0)(11.29,0.1)(11.53,0.05)(13.65,0.05)(13.88,0.25)(14.04,0.05)(15.53,0.05)(15.84,0.1)(17.57,0.05)(20,0.02)};
\addplot[ln, lFail] coordinates {(8.00,0.5)(8.94,0.5)(9.88,0.6)(10.51,0.65)(10.98,0.7)(12.08,0.65)(13.65,0.7)(16.78,0.7)(20,0.75)};
\addplot[ln, lRun] coordinates {(8.00,0.75)(8.24,0.75)(8.47,0.5)(8.94,0.4)(9.73,0.3)(10.51,0.4)(11.14,0.55)(12.08,0.55)(12.86,0.5)(13.80,0.5)(14.59,0.45)(15.84,0.45)(16.47,0.35)(17.73,0.3)(18.98,0.3)(19.29,0.2)(20.00,0.2)};
\addplot[ln, lAct] coordinates {(8.00,0.05)(8.16,0.1)(8.39,0.02)(9.73,0.02)(9.85,1.2)(10.01,1.25)(10.12,2.05)(10.43,1.9)(10.67,1.7)(10.90,1.2)(11.06,0.4)(11.14,0.0)(11.29,0.3)(11.53,0.35)(11.84,0.1)(12.08,0.0)(13.57,0.0)(13.73,0.4)(13.96,0.05)(14.12,0.0)(17.57,0.0)(17.73,0.6)(18.20,0.45)(18.51,0.3)(18.98,0.05)(20.00,0.0)};
\addplot[ln, lFin] coordinates {(8.00,1.76)(8.39,2.0)(8.86,2.65)(9.10,2.7)(9.49,2.7)(9.65,2.85)(10.04,3.3)(10.51,3.4)(10.82,3.6)(11.14,4.3)(11.37,5.25)(11.76,5.35)(12.39,5.6)(12.86,5.75)(13.65,5.75)(13.88,5.85)(14.27,6.4)(15.22,6.45)(15.84,6.45)(16.16,6.6)(16.63,6.8)(17.10,6.85)(17.73,6.9)(18.82,6.9)(19.29,6.95)(19.61,6.9)(20.00,6.55)};
\LI{pAss}\LW{112pt}{assigned}
\LI{pAct}\LW{111pt}{activated}
\LI{pSent}\LE{sent}
\LI{pRun}\LW{112pt}{running}
\LI{pHold}\LW{111pt}{holding}
\LI{pTrans}\LE{transferring}
\LI{pFin}\LW{112pt}{finished}
\LI{pFail}\LW{111pt}{failed}
\end{axis}

%================ P12 UK Analysis
\begin{axis}[rrd, at={(513pt,111pt)}, width=354pt, height=236pt,
  ymax=40, ytick={0,10,20,30,40}, yticklabels={0,10.0 K,20.0 K,30.0 K,40.0 K},
  xticklabel style={yshift=2pt},
  title={UK Analysis}, title style={font=\ttlb, xshift=-25pt},
  legend columns=3,
  legend style={font=\lgfb, xshift=-34pt, yshift=-43pt, row sep=0pt}]
\addplot[ln, lHold] coordinates {(8.0,0.4)(9.79,0.3)(10.9,1.3)(11.39,0.4)(12.99,0.4)(13.79,1.0)(14.27,0.4)(15.39,1.0)(15.87,0.4)(17.8,0.2)(20.0,0.3)};
\addplot[ln, lFail] coordinates {(8.0,2.3)(10.59,2.5)(11.39,2.8)(12.99,4.5)(13.95,5.9)(15.68,6.8)(17.28,7.6)(20.0,8.2)};
\addplot[ln, lRun] coordinates {(8.0,4.8)(9.79,4.5)(11.39,5.6)(12.99,6.2)(14.59,6.5)(15.68,6.6)(16.2,6.3)(17.28,5.6)(18.88,6.2)(20.0,6.3)};
\addplot[ln, lAct] coordinates {(8.00,8.2)(8.35,5.9)(8.67,5.9)(9.15,7.3)(9.79,10.1)(10.11,11.8)(10.51,15.8)(10.67,19.7)(10.83,20.3)(11.07,25.9)(11.39,28.2)(11.71,27.3)(12.51,26.5)(12.99,26.8)(13.63,24.8)(14.11,23.7)(14.59,24.0)(15.39,21.4)(15.68,21.1)(16.16,20.3)(17.28,19.7)(17.76,23.1)(18.24,23.7)(18.88,22.5)(19.36,21.4)(19.52,22.8)(20.0,22.3)};
\addplot[ln, lFin] coordinates {(8.00,21.4)(8.83,23.4)(9.47,23.9)(10.27,25.4)(10.91,27.0)(11.39,29.9)(12.03,31.5)(12.67,32.7)(13.63,33.5)(14.59,35.2)(15.39,35.8)(15.68,35.2)(16.0,35.0)(17.28,36.6)(17.76,37.5)(18.56,36.9)(19.52,36.6)(20.0,35.8)};
\LI{pAss}\LW{112pt}{assigned}
\LI{pAct}\LW{113pt}{activated}
\LI{pSent}\LE{sent}
\LI{pRun}\LW{112pt}{running}
\LI{pHold}\LW{113pt}{holding}
\LI{pTrans}\LE{transferring}
\LI{pFin}\LW{112pt}{finished}
\LI{pFail}\LW{113pt}{failed}
\end{axis}

%================ P13 243 temperature
\begin{axis}[rrd, at={(943pt,62pt)}, width=368pt, height=285pt,
  ymax=35, ytick={0,5,10,15,20,25,30,35}, yticklabels={0,5.0,10.0,15.0,20.0,25.0,30.0,35.0},
  title={243 temperature}, title style={xshift=-17pt},
  legend columns=3,
  legend style={xshift=-20pt, yshift=-42pt}]
\addplot[ln, line width=1.7pt, tPurL] coordinates {(8,25.8)(8.10,25.8)(8.13,26.9)(8.52,26.9)(8.56,25.8)(9.24,25.8)(9.27,26.9)(9.40,26.9)(9.43,25.8)(9.98,25.8)(10.01,26.9)(10.36,26.9)(10.40,25.8)(10.90,25.8)(10.93,26.9)(11.20,26.9)(11.24,25.8)(11.36,25.8)(11.39,26.9)(11.63,26.9)(11.67,25.8)(11.76,25.8)(11.79,26.9)(11.98,26.9)(12.02,25.8)(12.66,25.8)(12.69,26.9)(13.05,26.9)(13.09,25.8)(13.18,25.8)(13.21,26.9)(13.50,26.9)(13.54,25.8)(13.60,25.8)(13.70,26.9)(16.15,26.9)(16.23,25.8)(16.31,26.9)(18.07,26.9)(18.15,25.8)(18.23,26.9)(19.23,26.9)(19.31,25.7)(19.39,26.9)(20,26.9)};
\addplot[ln, line width=1.7pt, tRedL] coordinates {(8,24.1)(8.17,24.1)(8.21,25)(8.25,25)(8.29,24.1)(8.37,24.1)(8.41,25)(8.45,25)(8.49,24.1)(9.09,24.1)(9.13,25)(9.17,25)(9.21,24.1)(9.32,24.1)(9.36,25)(9.40,25)(9.44,24.1)(9.56,24.1)(9.60,25)(9.64,25)(9.68,24.1)(10.09,24.1)(10.13,25)(10.17,25)(10.21,24.1)(10.32,24.1)(10.36,25)(10.40,25)(10.44,24.1)(10.52,24.1)(10.56,25)(10.60,25)(10.64,24.1)(11.28,24.1)(11.34,25)(11.56,25)(11.62,24.1)(14.17,24.1)(14.21,25)(14.25,25)(14.29,24.1)(14.37,24.1)(14.41,25)(14.45,25)(14.49,24.1)(18.02,24.1)(18.06,25)(18.10,25)(18.14,24.1)(18.94,24.1)(18.98,25)(19.02,25)(19.06,24.1)(19.56,24.1)(19.60,25)(19.64,25)(19.68,24.1)(19.79,24.1)(19.83,25)(19.87,25)(19.91,24.1)(20,24.1)};
\addplot[ln, line width=1.7pt, tMag] coordinates {(8,27.8)(8.20,27.8)(8.24,28.9)(8.28,28.9)(8.32,27.8)(8.74,27.8)(8.78,28.9)(8.82,28.9)(8.86,27.8)(9.02,27.8)(9.06,28.9)(9.10,28.9)(9.14,27.8)(9.29,27.8)(9.33,28.9)(9.37,28.9)(9.41,27.8)(9.56,27.8)(9.60,28.9)(9.64,28.9)(9.68,27.8)(9.86,27.8)(9.90,28.9)(9.94,28.9)(9.98,27.8)(10.52,27.8)(10.56,28.9)(10.60,28.9)(10.64,27.8)(11.36,27.8)(11.40,28.9)(11.44,28.9)(11.48,27.8)(11.60,27.8)(11.64,28.9)(11.68,28.9)(11.72,27.8)(12.09,27.8)(12.13,28.9)(12.17,28.9)(12.21,27.8)(13.09,27.8)(13.13,28.9)(13.17,28.9)(13.21,27.8)(13.68,27.8)(13.72,28.9)(13.76,28.9)(13.80,27.8)(13.89,27.8)(13.93,28.9)(13.97,28.9)(14.01,27.8)(14.11,27.8)(14.15,28.9)(14.19,28.9)(14.23,27.8)(14.32,27.8)(14.36,28.9)(14.40,28.9)(14.44,27.8)(14.56,27.8)(14.60,28.9)(14.64,28.9)(14.68,27.8)(14.79,27.8)(14.83,28.9)(14.87,28.9)(14.91,27.8)(15.04,27.8)(15.08,28.9)(15.12,28.9)(15.16,27.8)(15.29,27.8)(15.33,28.9)(15.37,28.9)(15.41,27.8)(16.25,27.8)(16.30,27.0)(16.35,27.8)(16.76,27.8)(16.80,28.9)(16.84,28.9)(16.88,27.8)(17.02,27.8)(17.06,28.9)(17.10,28.9)(17.14,27.8)(17.29,27.8)(17.33,28.9)(17.37,28.9)(17.41,27.8)(17.86,27.8)(17.90,28.9)(17.94,28.9)(17.98,27.8)(18.56,27.8)(18.60,28.9)(18.64,28.9)(18.68,27.8)(18.99,27.8)(19.03,28.9)(19.07,28.9)(19.11,27.8)(19.63,27.8)(19.67,28.9)(19.71,28.9)(19.75,27.8)(20,27.8)};
\LI{tRed}\LW{86pt}{node098}
\LI{tPink}\LW{86pt}{node143}
\LI{tPur}\LE{node180}
\end{axis}

%================ P14 Batch queue age
\begin{axis}[rrd, at={(1381pt,62pt)}, width=374pt, height=284pt,
  ymax=5, ytick={0,1.25,2.5,3.75,5}, yticklabels={0,1.2,2.5,3.8,5.0},
  title={Batch queue age}, title style={xshift=-17pt},
  legend columns=2,
  legend style={xshift=-15pt, yshift=-42pt}]
\addplot[ln, tRedL] coordinates {(8.48,4.0)(16.41,4.0)(16.86,5.0)(20,5.0)};
\addplot[ln, lFin] coordinates {(8.48,1.0)(20,1.0)};
\LI{tRed}\LW{148pt}{oldest queued job}
\LI{tBlue}\LE{oldest running job}
\end{axis}

%================ P15 Torque memory usage
\begin{axis}[rrd, at={(1832pt,62pt)}, width=363pt, height=284pt,
  ymax=1.05, ytick={0,0.15,0.3,0.45,0.6,0.75,0.9,1.05}, yticklabels={0,0.15,0.30,0.45,0.60,0.75,0.90,1.05},
  title={Torque memory usage}, title style={xshift=-18pt},
  legend columns=1,
  legend style={xshift=-23pt, yshift=-42pt}]
\addplot[ln, mPurL] coordinates {(8,0.552)(8.61,0.552)(8.61,0.634)(9.98,0.634)(9.98,0.92)(20,0.92)};
\LI{mPur}\LE{torque memory usage}
\end{axis}
\end{tikzpicture}
\end{document}
